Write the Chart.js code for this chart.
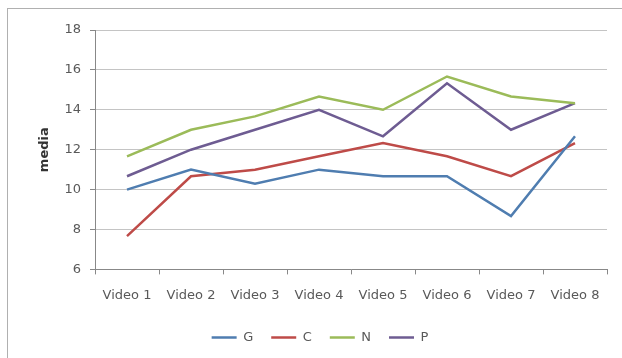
<!DOCTYPE html>
<html>
<head>
<meta charset="utf-8">
<script src="https://cdn.jsdelivr.net/npm/chart.js@4"></script>
<style>
  html, body { margin: 0; padding: 0; background: #fff; overflow: hidden; }
  #wrap { position: relative; width: 622px; height: 358px; }
  #frame { position: absolute; left: 7px; top: 8px; width: 700px; height: 500px; border: 1px solid #b0b0b0; }
  canvas { position: absolute; left: 0; top: 0; }
</style>
</head>
<body>
<div id="wrap">
  <div id="frame"></div>
  <canvas id="c" width="622" height="358"></canvas>
</div>
<script>
const categories = ["Video 1", "Video 2", "Video 3", "Video 4", "Video 5", "Video 6", "Video 7", "Video 8"];
const seriesG = [10, 11, 10.3, 11, 10.67, 10.67, 8.67, 12.67];
const seriesC = [7.67, 10.67, 11, 11.67, 12.33, 11.67, 10.67, 12.33];
const seriesN = [11.67, 13, 13.67, 14.67, 14, 15.67, 14.67, 14.33];
const seriesP = [10.67, 12, 13, 14, 12.67, 15.33, 13, 14.33];
const yTicks = [6, 8, 10, 12, 14, 16, 18];

const font = { family: "DejaVu Sans", size: 13 };
const textColor = "#595959";

function ds(label, data, color) {
  return { label, data, borderColor: color, backgroundColor: color, borderWidth: 2.5, pointRadius: 0, tension: 0, fill: false };
}

new Chart(document.getElementById("c"), {
  type: "line",
  data: {
    labels: categories,
    datasets: [
      ds("G", seriesG, "#4F7DB0"),
      ds("C", seriesC, "#BE4B48"),
      ds("N", seriesN, "#9BBB59"),
      ds("P", seriesP, "#6E5C92")
    ]
  },
  options: {
    responsive: false,
    animation: false,
    layout: { padding: { left: 33, right: 15, top: 30, bottom: 4 } },
    plugins: {
      legend: {
        position: "bottom",
        labels: {
          usePointStyle: true,
          pointStyle: "line",
          pointStyleWidth: 25,
          boxHeight: 10,
          color: textColor,
          font: font,
          padding: 18
        }
      },
      tooltip: { enabled: false }
    },
    scales: {
      x: {
        offset: true,
        afterFit: (scale) => { scale.height -= 3; },
        grid: { offset: true, drawOnChartArea: false, drawTicks: true, tickLength: 5, color: "#888888" },
        border: { color: "#888888" },
        ticks: { color: textColor, font: font, padding: 13, maxRotation: 0, autoSkip: false }
      },
      y: {
        min: yTicks[0],
        max: yTicks[yTicks.length - 1],
        afterBuildTicks: (scale) => { scale.ticks = yTicks.map(v => ({ value: v })); },
        afterFit: (scale) => { scale.width = 62; },
        grid: { color: "#c4c4c4", tickLength: 5, tickColor: "#888888" },
        border: { color: "#888888" },
        ticks: { color: textColor, font: font, padding: 9 },
        title: { display: true, text: "media", color: "#333333", font: { family: "DejaVu Sans", size: 13, weight: "bold" } }
      }
    }
  }
});
</script>
</body>
</html>
